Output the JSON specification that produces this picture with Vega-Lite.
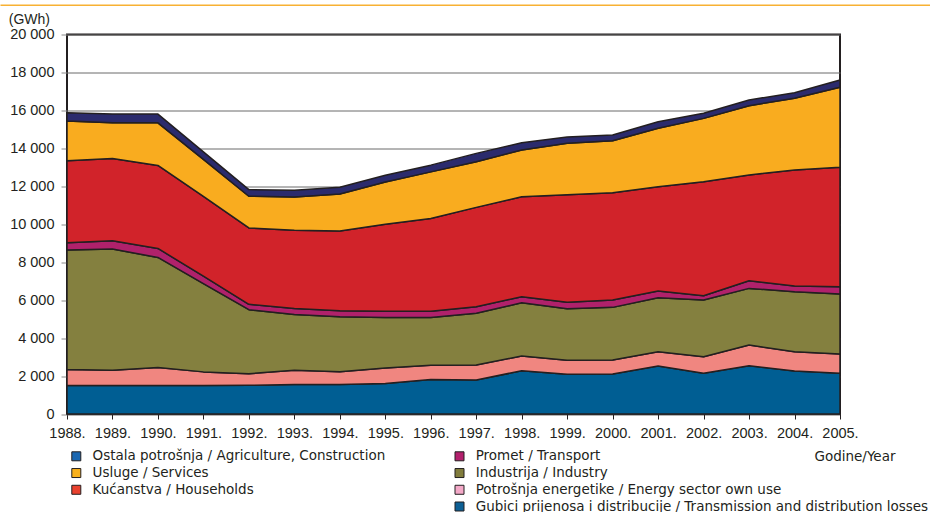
{
  "$schema": "https://vega.github.io/schema/vega-lite/v6.json",
  "width": 773,
  "height": 379.5,
  "autosize": {"type": "none"},
  "padding": {"left": 67, "top": 34.5, "right": 90, "bottom": 98},
  "background": "#ffffff",
  "config": {
    "font": "Liberation Sans",
    "view": {"stroke": "#231f20", "strokeWidth": 2}
  },
  "datasets": {
    "energy": [
      {"year": 1988, "series": "Gubici prijenosa i distribucije", "k": 1, "value": 1500},
      {"year": 1988, "series": "Potrošnja energetike", "k": 2, "value": 850},
      {"year": 1988, "series": "Industrija", "k": 3, "value": 6290},
      {"year": 1988, "series": "Promet", "k": 4, "value": 385},
      {"year": 1988, "series": "Kućanstva", "k": 5, "value": 4320},
      {"year": 1988, "series": "Usluge", "k": 6, "value": 2090},
      {"year": 1988, "series": "Ostala potrošnja", "k": 7, "value": 440},
      {"year": 1989, "series": "Gubici prijenosa i distribucije", "k": 1, "value": 1500},
      {"year": 1989, "series": "Potrošnja energetike", "k": 2, "value": 810},
      {"year": 1989, "series": "Industrija", "k": 3, "value": 6380},
      {"year": 1989, "series": "Promet", "k": 4, "value": 435},
      {"year": 1989, "series": "Kućanstva", "k": 5, "value": 4340},
      {"year": 1989, "series": "Usluge", "k": 6, "value": 1880},
      {"year": 1989, "series": "Ostala potrošnja", "k": 7, "value": 460},
      {"year": 1990, "series": "Gubici prijenosa i distribucije", "k": 1, "value": 1500},
      {"year": 1990, "series": "Potrošnja energetike", "k": 2, "value": 950},
      {"year": 1990, "series": "Industrija", "k": 3, "value": 5800},
      {"year": 1990, "series": "Promet", "k": 4, "value": 475},
      {"year": 1990, "series": "Kućanstva", "k": 5, "value": 4375},
      {"year": 1990, "series": "Usluge", "k": 6, "value": 2245},
      {"year": 1990, "series": "Ostala potrošnja", "k": 7, "value": 460},
      {"year": 1991, "series": "Gubici prijenosa i distribucije", "k": 1, "value": 1500},
      {"year": 1991, "series": "Potrošnja energetike", "k": 2, "value": 720},
      {"year": 1991, "series": "Industrija", "k": 3, "value": 4655},
      {"year": 1991, "series": "Promet", "k": 4, "value": 390},
      {"year": 1991, "series": "Kućanstva", "k": 5, "value": 4200},
      {"year": 1991, "series": "Usluge", "k": 6, "value": 1950},
      {"year": 1991, "series": "Ostala potrošnja", "k": 7, "value": 400},
      {"year": 1992, "series": "Gubici prijenosa i distribucije", "k": 1, "value": 1510},
      {"year": 1992, "series": "Potrošnja energetike", "k": 2, "value": 615},
      {"year": 1992, "series": "Industrija", "k": 3, "value": 3375},
      {"year": 1992, "series": "Promet", "k": 4, "value": 280},
      {"year": 1992, "series": "Kućanstva", "k": 5, "value": 4025},
      {"year": 1992, "series": "Usluge", "k": 6, "value": 1670},
      {"year": 1992, "series": "Ostala potrošnja", "k": 7, "value": 350},
      {"year": 1993, "series": "Gubici prijenosa i distribucije", "k": 1, "value": 1550},
      {"year": 1993, "series": "Potrošnja energetike", "k": 2, "value": 755},
      {"year": 1993, "series": "Industrija", "k": 3, "value": 2935},
      {"year": 1993, "series": "Promet", "k": 4, "value": 315},
      {"year": 1993, "series": "Kućanstva", "k": 5, "value": 4130},
      {"year": 1993, "series": "Usluge", "k": 6, "value": 1755},
      {"year": 1993, "series": "Ostala potrošnja", "k": 7, "value": 350},
      {"year": 1994, "series": "Gubici prijenosa i distribucije", "k": 1, "value": 1560},
      {"year": 1994, "series": "Potrošnja energetike", "k": 2, "value": 665},
      {"year": 1994, "series": "Industrija", "k": 3, "value": 2900},
      {"year": 1994, "series": "Promet", "k": 4, "value": 315},
      {"year": 1994, "series": "Kućanstva", "k": 5, "value": 4200},
      {"year": 1994, "series": "Usluge", "k": 6, "value": 1950},
      {"year": 1994, "series": "Ostala potrošnja", "k": 7, "value": 355},
      {"year": 1995, "series": "Gubici prijenosa i distribucije", "k": 1, "value": 1610},
      {"year": 1995, "series": "Potrošnja energetike", "k": 2, "value": 820},
      {"year": 1995, "series": "Industrija", "k": 3, "value": 2655},
      {"year": 1995, "series": "Promet", "k": 4, "value": 330},
      {"year": 1995, "series": "Kućanstva", "k": 5, "value": 4585},
      {"year": 1995, "series": "Usluge", "k": 6, "value": 2230},
      {"year": 1995, "series": "Ostala potrošnja", "k": 7, "value": 355},
      {"year": 1996, "series": "Gubici prijenosa i distribucije", "k": 1, "value": 1820},
      {"year": 1996, "series": "Potrošnja energetike", "k": 2, "value": 755},
      {"year": 1996, "series": "Industrija", "k": 3, "value": 2515},
      {"year": 1996, "series": "Promet", "k": 4, "value": 330},
      {"year": 1996, "series": "Kućanstva", "k": 5, "value": 4885},
      {"year": 1996, "series": "Usluge", "k": 6, "value": 2455},
      {"year": 1996, "series": "Ostala potrošnja", "k": 7, "value": 355},
      {"year": 1997, "series": "Gubici prijenosa i distribucije", "k": 1, "value": 1790},
      {"year": 1997, "series": "Potrošnja energetike", "k": 2, "value": 790},
      {"year": 1997, "series": "Industrija", "k": 3, "value": 2725},
      {"year": 1997, "series": "Promet", "k": 4, "value": 350},
      {"year": 1997, "series": "Kućanstva", "k": 5, "value": 5235},
      {"year": 1997, "series": "Usluge", "k": 6, "value": 2405},
      {"year": 1997, "series": "Ostala potrošnja", "k": 7, "value": 440},
      {"year": 1998, "series": "Gubici prijenosa i distribucije", "k": 1, "value": 2280},
      {"year": 1998, "series": "Potrošnja energetike", "k": 2, "value": 775},
      {"year": 1998, "series": "Industrija", "k": 3, "value": 2810},
      {"year": 1998, "series": "Promet", "k": 4, "value": 315},
      {"year": 1998, "series": "Kućanstva", "k": 5, "value": 5270},
      {"year": 1998, "series": "Usluge", "k": 6, "value": 2460},
      {"year": 1998, "series": "Ostala potrošnja", "k": 7, "value": 385},
      {"year": 1999, "series": "Gubici prijenosa i distribucije", "k": 1, "value": 2100},
      {"year": 1999, "series": "Potrošnja energetike", "k": 2, "value": 730},
      {"year": 1999, "series": "Industrija", "k": 3, "value": 2715},
      {"year": 1999, "series": "Promet", "k": 4, "value": 350},
      {"year": 1999, "series": "Kućanstva", "k": 5, "value": 5655},
      {"year": 1999, "series": "Usluge", "k": 6, "value": 2715},
      {"year": 1999, "series": "Ostala potrošnja", "k": 7, "value": 335},
      {"year": 2000, "series": "Gubici prijenosa i distribucije", "k": 1, "value": 2110},
      {"year": 2000, "series": "Potrošnja energetike", "k": 2, "value": 735},
      {"year": 2000, "series": "Industrija", "k": 3, "value": 2775},
      {"year": 2000, "series": "Promet", "k": 4, "value": 385},
      {"year": 2000, "series": "Kućanstva", "k": 5, "value": 5655},
      {"year": 2000, "series": "Usluge", "k": 6, "value": 2740},
      {"year": 2000, "series": "Ostala potrošnja", "k": 7, "value": 300},
      {"year": 2001, "series": "Gubici prijenosa i distribucije", "k": 1, "value": 2530},
      {"year": 2001, "series": "Potrošnja energetike", "k": 2, "value": 755},
      {"year": 2001, "series": "Industrija", "k": 3, "value": 2845},
      {"year": 2001, "series": "Promet", "k": 4, "value": 350},
      {"year": 2001, "series": "Kućanstva", "k": 5, "value": 5500},
      {"year": 2001, "series": "Usluge", "k": 6, "value": 3075},
      {"year": 2001, "series": "Ostala potrošnja", "k": 7, "value": 350},
      {"year": 2002, "series": "Gubici prijenosa i distribucije", "k": 1, "value": 2145},
      {"year": 2002, "series": "Potrošnja energetike", "k": 2, "value": 875},
      {"year": 2002, "series": "Industrija", "k": 3, "value": 2985},
      {"year": 2002, "series": "Promet", "k": 4, "value": 230},
      {"year": 2002, "series": "Kućanstva", "k": 5, "value": 6010},
      {"year": 2002, "series": "Usluge", "k": 6, "value": 3335},
      {"year": 2002, "series": "Ostala potrošnja", "k": 7, "value": 265},
      {"year": 2003, "series": "Gubici prijenosa i distribucije", "k": 1, "value": 2545},
      {"year": 2003, "series": "Potrošnja energetike", "k": 2, "value": 1090},
      {"year": 2003, "series": "Industrija", "k": 3, "value": 2985},
      {"year": 2003, "series": "Promet", "k": 4, "value": 405},
      {"year": 2003, "series": "Kućanstva", "k": 5, "value": 5570},
      {"year": 2003, "series": "Usluge", "k": 6, "value": 3655},
      {"year": 2003, "series": "Ostala potrošnja", "k": 7, "value": 300},
      {"year": 2004, "series": "Gubici prijenosa i distribucije", "k": 1, "value": 2265},
      {"year": 2004, "series": "Potrošnja energetike", "k": 2, "value": 1020},
      {"year": 2004, "series": "Industrija", "k": 3, "value": 3160},
      {"year": 2004, "series": "Promet", "k": 4, "value": 300},
      {"year": 2004, "series": "Kućanstva", "k": 5, "value": 6115},
      {"year": 2004, "series": "Usluge", "k": 6, "value": 3775},
      {"year": 2004, "series": "Ostala potrošnja", "k": 7, "value": 300},
      {"year": 2005, "series": "Gubici prijenosa i distribucije", "k": 1, "value": 2145},
      {"year": 2005, "series": "Potrošnja energetike", "k": 2, "value": 1015},
      {"year": 2005, "series": "Industrija", "k": 3, "value": 3165},
      {"year": 2005, "series": "Promet", "k": 4, "value": 385},
      {"year": 2005, "series": "Kućanstva", "k": 5, "value": 6290},
      {"year": 2005, "series": "Usluge", "k": 6, "value": 4215},
      {"year": 2005, "series": "Ostala potrošnja", "k": 7, "value": 385}
    ],
    "legend": [
      {"series": "Ostala potrošnja", "label": "Ostala potrošnja / Agriculture, Construction", "col": "L", "row": 1},
      {"series": "Usluge", "label": "Usluge / Services", "col": "L", "row": 2},
      {"series": "Kućanstva", "label": "Kućanstva / Households", "col": "L", "row": 3},
      {"series": "Promet", "label": "Promet / Transport", "col": "R", "row": 1},
      {"series": "Industrija", "label": "Industrija / Industry", "col": "R", "row": 2},
      {"series": "Potrošnja energetike", "label": "Potrošnja energetike / Energy sector own use", "col": "R", "row": 3},
      {"series": "Gubici prijenosa i distribucije", "label": "Gubici prijenosa i distribucije / Transmission and distribution losses", "col": "R", "row": 4}
    ]
  },
  "resolve": {"scale": {"x": "independent", "y": "independent"}},
  "layer": [
    {
      "data": {"name": "energy"},
      "mark": {"type": "point", "opacity": 0},
      "encoding": {
        "x": {
          "field": "year", "type": "quantitative",
          "scale": {"domain": [1988, 2005], "range": [-67, 863], "nice": false, "zero": false},
          "axis": {"orient": "top", "offset": 29.8, "domainColor": "#f8b133", "domainWidth": 1.6, "ticks": false, "labels": false, "grid": false, "title": null}
        }
      }
    },
    {
      "data": {"name": "energy"},
      "mark": {"type": "area", "stroke": "#231f20", "strokeWidth": 1.5, "strokeJoin": "round", "opacity": 1},
      "encoding": {
        "x": {
          "field": "year", "type": "quantitative",
          "scale": {"domain": [1988, 2005], "nice": false, "zero": false},
          "axis": {
            "values": [1988, 1989, 1990, 1991, 1992, 1993, 1994, 1995, 1996, 1997, 1998, 1999, 2000, 2001, 2002, 2003, 2004, 2005],
            "labelExpr": "datum.value + '.'",
            "grid": false, "domain": false,
            "tickColor": "#231f20", "tickSize": 5, "tickWidth": 1,
            "labelFontSize": 14.5, "labelColor": "#231f20", "labelPadding": 7,
            "labelFlush": false, "labelOverlap": false,
            "title": "Godine/Year", "titleAlign": "right", "titleAnchor": "start", "titleBaseline": "middle",
            "titleX": 828, "titleY": 42, "titleFont": "DejaVu Sans", "titleFontSize": 13.5, "titleFontWeight": "normal", "titleColor": "#231f20"
          }
        },
        "y": {
          "field": "value", "type": "quantitative", "stack": "zero",
          "scale": {"domain": [0, 20000], "nice": false},
          "axis": {
            "values": [0, 2000, 4000, 6000, 8000, 10000, 12000, 14000, 16000, 18000, 20000],
            "labelExpr": "replace(format(datum.value, ','), ',', ' ')",
            "grid": true, "gridColor": "#6b6b6b", "gridWidth": 1, "gridOpacity": 1,
            "domain": false, "tickColor": "#8a8a8a", "tickSize": 6,
            "labelFontSize": 14.5, "labelColor": "#231f20", "labelPadding": 7,
            "title": "(GWh)", "titleAngle": 0, "titleAlign": "left", "titleBaseline": "alphabetic",
            "titleX": -58.7, "titleY": -11, "titleFontSize": 14, "titleFontWeight": "normal", "titleColor": "#231f20"
          }
        },
        "color": {
          "field": "series", "type": "nominal",
          "scale": {
            "domain": ["Gubici prijenosa i distribucije", "Potrošnja energetike", "Industrija", "Promet", "Kućanstva", "Usluge", "Ostala potrošnja"],
            "range": ["#005e93", "#f08680", "#84803f", "#b0216b", "#d1232a", "#f9ac1f", "#2b2b6d"]
          },
          "legend": null
        },
        "order": {"field": "k", "type": "quantitative"}
      }
    },
    {
      "data": {"name": "legend"},
      "mark": {"type": "square", "size": 81, "stroke": "#231f20", "strokeWidth": 1, "opacity": 1, "filled": true},
      "encoding": {
        "x": {"field": "col", "type": "nominal", "scale": {"type": "point", "domain": ["L", "R"], "range": [9.3, 392.5], "padding": 0}, "axis": null},
        "y": {"field": "row", "type": "ordinal", "scale": {"type": "point", "domain": [1, 2, 3, 4], "range": [421.8, 472], "padding": 0}, "axis": null},
        "fill": {
          "field": "series", "type": "nominal",
          "scale": {
            "domain": ["Ostala potrošnja", "Usluge", "Kućanstva", "Promet", "Industrija", "Potrošnja energetike", "Gubici prijenosa i distribucije"],
            "range": ["#1a67b1", "#f9b11c", "#e9412e", "#b3206d", "#817c3c", "#f4a9c8", "#0d6095"]
          },
          "legend": null
        }
      }
    },
    {
      "data": {"name": "legend"},
      "mark": {"type": "text", "align": "left", "baseline": "middle", "dx": 16.2, "font": "DejaVu Sans", "fontSize": 13.5, "color": "#231f20"},
      "encoding": {
        "x": {"field": "col", "type": "nominal", "scale": {"type": "point", "domain": ["L", "R"], "range": [9.3, 392.5], "padding": 0}, "axis": null},
        "y": {"field": "row", "type": "ordinal", "scale": {"type": "point", "domain": [1, 2, 3, 4], "range": [421.8, 472], "padding": 0}, "axis": null},
        "text": {"field": "label"}
      }
    }
  ]
}
